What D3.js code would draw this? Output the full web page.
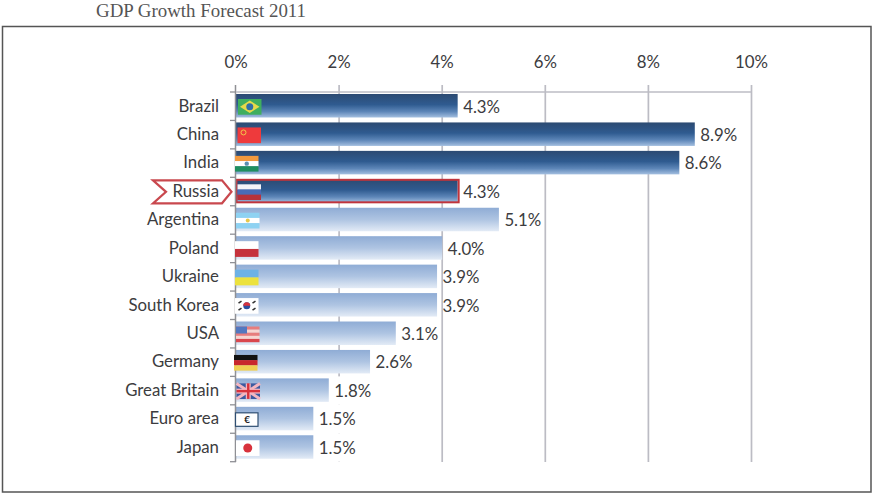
<!DOCTYPE html>
<html lang="en">
<head>
<meta charset="UTF-8">
<title>GDP Growth Forecast 2011</title>
<style>
  html, body { margin: 0; padding: 0; background: #fff; }
  svg { display: block; }
</style>
</head>
<body>
<svg id="chart"></svg>
<script src="https://d3js.org/d3.v7.min.js"></script>
<script>
var countries = ["Brazil", "China", "India", "Russia", "Argentina", "Poland", "Ukraine", "South Korea", "USA", "Germany", "Great Britain", "Euro area", "Japan"];
var growth = [4.3, 8.9, 8.6, 4.3, 5.1, 4.0, 3.9, 3.9, 3.1, 2.6, 1.8, 1.5, 1.5];
var darkCountries = ["Brazil", "China", "India", "Russia"];
var highlighted = "Russia";
var xTicks = [0, 2, 4, 6, 8, 10];

var W = 872, H = 493;
var textColor = "#3c3c40";
var gridColor = "#bcbcc4";
var font = "Lato, 'Open Sans', sans-serif";
var fontSize = 16.8;

var svg = d3.select("#chart").attr("width", W).attr("height", H);

var x = d3.scaleLinear().domain([0, 10]).range([236, 751.5]);
var y = d3.scaleBand().domain(countries).range([92, 461.7]);

// gradients for the two bar groups
var defs = svg.append("defs");
function gradient(id, stops) {
  var g = defs.append("linearGradient").attr("id", id)
    .attr("x1", 0).attr("y1", 0).attr("x2", 0).attr("y2", 1);
  stops.forEach(function(s) {
    g.append("stop").attr("offset", s[0]).attr("stop-color", s[1]);
  });
}
gradient("darkBar", [[0, "#2c4a72"], [0.45, "#2f5b90"], [0.75, "#5d86b8"], [1, "#a4bfe0"]]);
gradient("lightBar", [[0, "#8facd5"], [0.5, "#aec4e2"], [1, "#e3ebf6"]]);

// frame and title
svg.append("rect").attr("x", 2.5).attr("y", 26.5).attr("width", 868.5).attr("height", 465.5)
  .attr("fill", "none").attr("stroke", "#555").attr("stroke-width", 1.5);

svg.append("text").attr("x", 96).attr("y", 17)
  .attr("font-family", "'Liberation Serif', serif").attr("font-size", 18.9)
  .attr("fill", "#555").text("GDP Growth Forecast 2011");

// grid lines
svg.append("g").selectAll("line").data(xTicks.slice(1)).join("line")
  .attr("x1", d => x(d)).attr("x2", d => x(d))
  .attr("y1", 85).attr("y2", 462)
  .attr("stroke", gridColor).attr("stroke-width", 1.7);

// top axis labels
svg.append("g").selectAll("text").data(xTicks).join("text")
  .attr("x", d => x(d)).attr("y", 68)
  .attr("text-anchor", "middle")
  .attr("font-family", font).attr("font-size", fontSize).attr("fill", textColor)
  .text(d => d + "%");

// bars
var barH = 23.5;
svg.append("g").selectAll("rect").data(countries).join("rect")
  .attr("x", x(0))
  .attr("y", d => y(d) + 2)
  .attr("width", (d, i) => x(growth[i]) - x(0))
  .attr("height", barH)
  .attr("fill", d => darkCountries.indexOf(d) >= 0 ? "url(#darkBar)" : "url(#lightBar)");

// highlighted bar outline
var hi = countries.indexOf(highlighted);
svg.append("rect")
  .attr("x", x(0) + 0.5)
  .attr("y", y(highlighted) + 2.5)
  .attr("width", x(growth[hi]) - x(0) + 0.5)
  .attr("height", barH - 1)
  .attr("fill", "none").attr("stroke", "#c0343c").attr("stroke-width", 2);

// y axis line and ticks
var axisG = svg.append("g").attr("stroke", "#8f9095");
axisG.append("line").attr("x1", x(0) - 0.5).attr("x2", x(0) - 0.5).attr("y1", 85).attr("y2", 462).attr("stroke-width", 1.5);
var tickYs = countries.map(d => y(d)).concat([y.range()[1]]);
axisG.selectAll("line.t").data(tickYs).join("line").attr("class", "t")
  .attr("x1", x(0) - 6).attr("x2", x(0))
  .attr("y1", d => d).attr("y2", d => d).attr("stroke-width", 1.3);

// ribbon behind the Russia label
var rTop = y(highlighted) + 3, rMid = y(highlighted) + 14.5, rBot = y(highlighted) + 26;
var ribbon = [[153, rTop], [222, rTop], [231.5, rMid], [222, rBot], [153, rBot], [166, rMid]];
svg.append("path").attr("d", d3.line()(ribbon) + "Z")
  .attr("fill", "#fff").attr("stroke", "#c9484e").attr("stroke-width", 2.2);

// category labels
svg.append("g").selectAll("text").data(countries).join("text")
  .attr("x", 219)
  .attr("y", d => y(d) + 19.5)
  .attr("text-anchor", "end")
  .attr("font-family", font).attr("font-size", fontSize).attr("fill", textColor)
  .text(d => d);

// white boxes behind the value labels, they cut the grid lines
svg.append("g").selectAll("rect").data(countries).join("rect")
  .attr("x", (d, i) => x(growth[i]) + 6.5)
  .attr("y", d => y(d))
  .attr("width", 36)
  .attr("height", y.bandwidth())
  .attr("fill", "#fff");

// grey cap above the first bar, drawn after the boxes so it stays whole
svg.append("line").attr("x1", x(0)).attr("x2", x(10)).attr("y1", 92).attr("y2", 92)
  .attr("stroke", gridColor).attr("stroke-width", 1.7);

// value labels
svg.append("g").selectAll("text").data(countries).join("text")
  .attr("x", (d, i) => x(growth[i]) + 5.5)
  .attr("y", d => y(d) + 20.5)
  .attr("font-family", font).attr("font-size", fontSize).attr("fill", textColor)
  .text((d, i) => growth[i].toFixed(1) + "%");

// flags: each one is drawn from stripes, then its emblem on top
var flagW = 23.5, flagH = 15.5;
var flagLeft = {
  "Brazil": 238, "China": 237.5, "India": 235, "Russia": 237.5, "Argentina": 236, "Poland": 235,
  "Ukraine": 235, "South Korea": 235, "USA": 236, "Germany": 234, "Great Britain": 236.5, "Euro area": 235.5, "Japan": 236
};
var flagStripes = {
  "Brazil": ["#3fae5f"],
  "China": ["#ee3a3c"],
  "India": ["#f2993e", "#ffffff", "#1f8f5f"],
  "Russia": ["#f4f4f8", "#4a6cb8", "#b8323c"],
  "Argentina": ["#8ed2f2", "#ffffff", "#8ed2f2"],
  "Poland": ["#ffffff", "#c5323c"],
  "Ukraine": ["#6db2e6", "#ece23e"],
  "South Korea": ["#ffffff"],
  "USA": ["#e77d7d", "#f6d6d2", "#e77d7d", "#f6d6d2", "#d9474e"],
  "Germany": ["#111111", "#c8282c", "#efcf52"],
  "Great Britain": ["#3c5aa0"],
  "Euro area": ["#ffffff"],
  "Japan": ["#ffffff"]
};
var flags = svg.append("g").selectAll("g").data(countries).join("g")
  .attr("transform", d => "translate(" + flagLeft[d] + "," + (y(d) + 7) + ")");

flags.each(function(name) {
  var f = d3.select(this), stripes = flagStripes[name], h = flagH / stripes.length;
  f.selectAll("rect").data(stripes).join("rect")
    .attr("x", 0).attr("y", (d, i) => i * h)
    .attr("width", flagW).attr("height", h + 0.2).attr("fill", d => d);
  var cx = flagW / 2, cy = flagH / 2;
  if (name === "Brazil") {
    f.append("path").attr("d", d3.line()([[2, cy], [cx, 1.5], [flagW - 2, cy], [cx, flagH - 1.5]]) + "Z").attr("fill", "#e6d94a");
    f.append("circle").attr("cx", cx).attr("cy", cy).attr("r", 3.5).attr("fill", "#2f6fa8");
  }
  if (name === "China") {
    f.append("circle").attr("cx", 6).attr("cy", 5).attr("r", 2.5).attr("fill", "none").attr("stroke", "#f2c94a").attr("stroke-width", 1);
  }
  if (name === "India") {
    f.append("circle").attr("cx", cx).attr("cy", cy).attr("r", 2.2).attr("fill", "#5a8fb0");
  }
  if (name === "Argentina") {
    f.append("circle").attr("cx", cx).attr("cy", cy).attr("r", 2).attr("fill", "#e8c84a");
  }
  if (name === "South Korea") {
    f.append("circle").attr("cx", cx).attr("cy", cy).attr("r", 3.5).attr("fill", "#2a4fa0");
    f.append("path").attr("d", d3.arc()({innerRadius: 0, outerRadius: 3.5, startAngle: -Math.PI / 2, endAngle: Math.PI / 2}))
      .attr("transform", "translate(" + cx + "," + cy + ")").attr("fill", "#d8323c");
    f.selectAll("line.k").data([[5, 4], [19, 4], [5, 11], [19, 11]]).join("line").attr("class", "k")
      .attr("x1", d => d[0] - 1.5).attr("x2", d => d[0] + 1.5)
      .attr("y1", d => d[1] + 1).attr("y2", d => d[1] - 1)
      .attr("stroke", "#333").attr("stroke-width", 1.5);
  }
  if (name === "USA") {
    f.append("rect").attr("width", 11).attr("height", 7).attr("fill", "#5378c0");
  }
  if (name === "Great Britain") {
    f.selectAll("line.d").data([[0, 0, flagW, flagH], [0, flagH, flagW, 0]]).join("line").attr("class", "d")
      .attr("x1", d => d[0]).attr("y1", d => d[1]).attr("x2", d => d[2]).attr("y2", d => d[3])
      .attr("stroke", "#f4b6c0").attr("stroke-width", 3);
    f.append("rect").attr("x", 0).attr("y", cy - 2.5).attr("width", flagW).attr("height", 5).attr("fill", "#f4b6c0");
    f.append("rect").attr("x", cx - 2.5).attr("y", 0).attr("width", 5).attr("height", flagH).attr("fill", "#f4b6c0");
    f.append("rect").attr("x", 0).attr("y", cy - 1.2).attr("width", flagW).attr("height", 2.4).attr("fill", "#d8323c");
    f.append("rect").attr("x", cx - 1.2).attr("y", 0).attr("width", 2.4).attr("height", flagH).attr("fill", "#d8323c");
  }
  if (name === "Euro area") {
    f.select("rect").attr("stroke", "#2f4f72").attr("stroke-width", 1.2).attr("y", 1).attr("height", flagH - 2).attr("width", flagW - 1);
    f.append("text").attr("x", cx).attr("y", cy + 3.5).attr("text-anchor", "middle")
      .attr("font-family", font).attr("font-size", 10).attr("font-weight", 700).attr("fill", "#222").text("€");
  }
  if (name === "Japan") {
    f.append("circle").attr("cx", cx).attr("cy", cy).attr("r", 4.5).attr("fill", "#d8323c");
  }
});
</script>
</body>
</html>
